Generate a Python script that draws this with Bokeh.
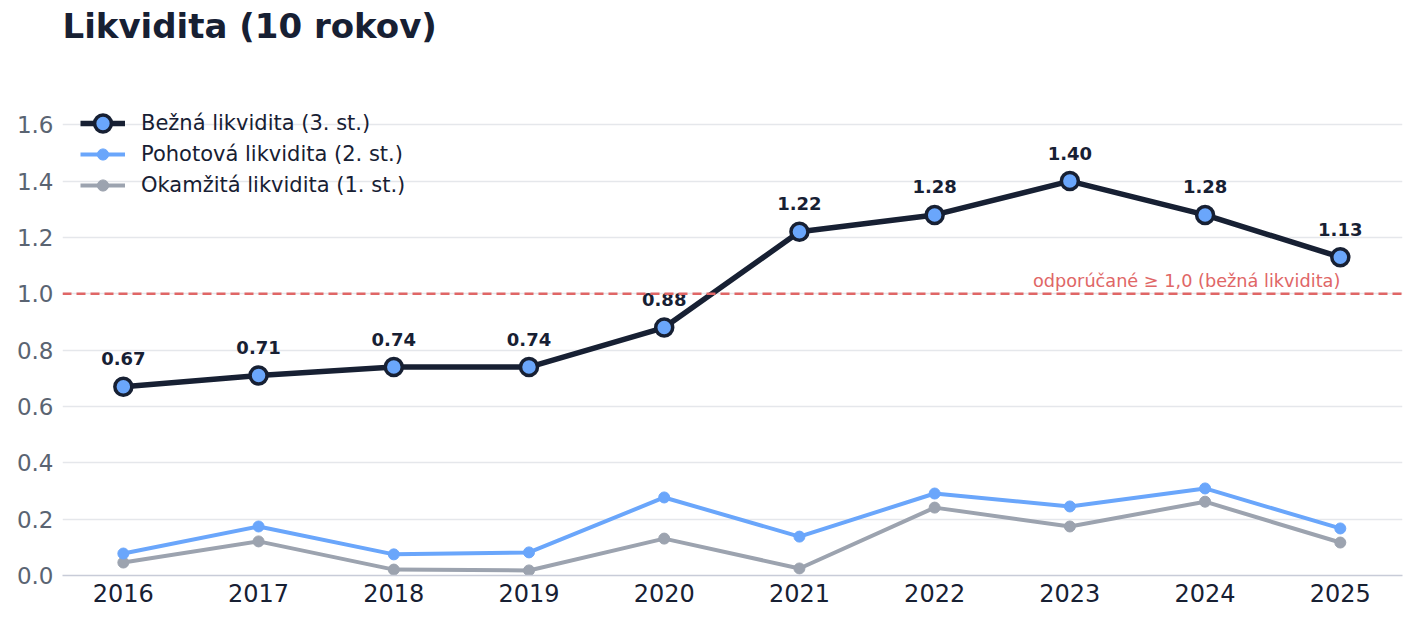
from bokeh.plotting import figure
from bokeh.models import ColumnDataSource, Span, FixedTicker, Legend, LegendItem, CustomJSTickFormatter, Title
from bokeh.core.properties import value
from bokeh.embed import file_html
from bokeh.resources import INLINE

years = [2016, 2017, 2018, 2019, 2020, 2021, 2022, 2023, 2024, 2025]
bezna = [0.67, 0.71, 0.74, 0.74, 0.88, 1.22, 1.28, 1.40, 1.28, 1.13]
pohotova = [0.078, 0.174, 0.075, 0.082, 0.277, 0.138, 0.291, 0.245, 0.309, 0.167]
okamzita = [0.046, 0.121, 0.021, 0.018, 0.131, 0.025, 0.241, 0.174, 0.262, 0.117]
bezna_labels = ["%.2f" % v for v in bezna]
y_ticks = [0.0, 0.2, 0.4, 0.6, 0.8, 1.0, 1.2, 1.4, 1.6]
recommended = 1.0

DARK = "#172033"
BLUE = "#6aa6fb"
GRAY = "#9ca3af"
RED = "#e06666"
FONT = "DejaVu Sans"

src = ColumnDataSource(dict(x=years, b=bezna, p=pohotova, o=okamzita, lab=bezna_labels))

p = figure(width=1416, height=621, output_backend="svg", toolbar_location=None,
           x_range=(2015.55, 2025.46), y_range=(0, 1.75),
           min_border_left=62, min_border_right=14, min_border_bottom=46, min_border_top=82)
p.outline_line_color = None
p.background_fill_color = "white"
p.border_fill_color = "white"

p.title.text = "Likvidita (10 rokov)"
p.title.text_font = FONT
p.title.text_font_size = "34px"
p.title.text_font_style = "bold"
p.title.text_color = DARK
p.title.align = "left"
p.title.standoff = 0

# invisible spacer between title and plot frame
p.add_layout(Title(text=" ", text_font_size="31px", standoff=0, text_color="white"), "above")

p.xgrid.grid_line_color = None
p.ygrid.grid_line_color = "#e5e7eb"
p.ygrid.grid_line_width = 1.5
p.ygrid.ticker = FixedTicker(ticks=y_ticks)

p.xaxis.ticker = FixedTicker(ticks=years)
p.yaxis.ticker = FixedTicker(ticks=y_ticks)
p.yaxis.formatter = CustomJSTickFormatter(code="return tick.toFixed(1);")
for ax in (p.xaxis, p.yaxis):
    ax.major_tick_line_color = None
    ax.minor_tick_line_color = None
    ax.major_label_text_font = FONT
p.yaxis.major_label_text_font_size = "23px"
p.xaxis.major_label_text_font_size = "24px"
p.yaxis.axis_line_color = None
p.yaxis.major_label_text_color = "#5a6472"
p.xaxis.major_label_text_color = DARK
p.xaxis.axis_line_color = "#c8ccd8"
p.xaxis.axis_line_width = 1.5
p.xaxis.major_label_standoff = 2
p.yaxis.major_label_standoff = 3

p.add_layout(Span(location=recommended, dimension="width", line_color=RED,
                  line_width=2.5, line_dash="9 5"))
p.text(x=[years[-1]], y=[recommended], text=["odporúčané ≥ 1,0 (bežná likvidita)"],
       text_align="right", text_baseline="bottom", y_offset=-3,
       text_font=value(FONT), text_font_size="17.7px", text_color=RED)

r_ol = p.line("x", "o", source=src, line_color=GRAY, line_width=4)
r_oc = p.scatter("x", "o", source=src, size=11, fill_color=GRAY, line_color=GRAY)
r_pl = p.line("x", "p", source=src, line_color=BLUE, line_width=4)
r_pc = p.scatter("x", "p", source=src, size=11, fill_color=BLUE, line_color=BLUE)
r_bl = p.line("x", "b", source=src, line_color=DARK, line_width=5.5)
r_bc = p.scatter("x", "b", source=src, size=17, fill_color=BLUE, line_color=DARK, line_width=3.5)

p.text("x", "b", text="lab", source=src, text_align="center", text_baseline="middle",
       y_offset=-28, text_font=value(FONT), text_font_size="18px",
       text_font_style="bold", text_color=DARK)

legend_specs = [
    ("Bežná likvidita (3. st.)", [r_bl, r_bc], 42, 431),
    ("Pohotová likvidita (2. st.)", [r_pl, r_pc], 28, 407),
    ("Okamžitá likvidita (1. st.)", [r_ol, r_oc], 28, 376),
]
for label, rends, gh, ybot in legend_specs:
    lg = Legend(items=[LegendItem(label=label, renderers=rends)], location=(18, ybot))
    lg.margin = 0
    lg.padding = 0
    lg.border_line_color = None
    lg.background_fill_alpha = 0
    lg.label_text_font = FONT
    lg.label_text_font_size = "21px"
    lg.label_text_color = DARK
    lg.glyph_width = 45
    lg.glyph_height = gh
    lg.label_height = 28
    lg.spacing = 0
    lg.label_standoff = 16
    p.add_layout(lg)

open("out.html", "w").write(file_html(p, INLINE))
